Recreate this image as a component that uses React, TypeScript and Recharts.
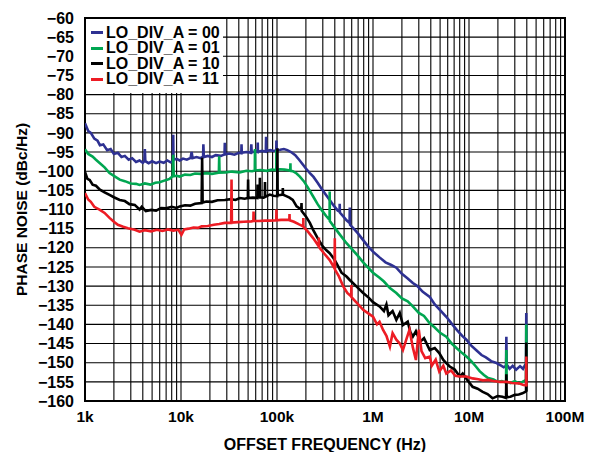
import React from "react";
import { LineChart, Line, XAxis, YAxis, CartesianGrid, Legend, Label, ReferenceArea } from "recharts";

const FONT = "'Liberation Sans', Arial, Helvetica, sans-serif";

// axis ticks
const decadeTicks = [1e3, 1e4, 1e5, 1e6, 1e7, 1e8];
const decadeLabels = ["1k", "10k", "100k", "1M", "10M", "100M"];
const gridSteps = [1, 2, 3, 4, 5, 6, 7, 8, 9];
const yTicks = [-160, -155, -150, -145, -140, -135, -130, -125, -120, -115, -110, -105, -100, -95, -90, -85, -80, -75, -70, -65, -60];

// [offset frequency Hz, phase noise dBc/Hz]
const lo00: [number, number][] = [
  [1000, -87.5], [1080, -89.5], [1150, -90], [1250, -91.5], [1350, -92], [1430, -93.2], [1550, -93], [1700, -94.5],
  [1850, -94.2], [2000, -95.5], [2200, -95.2], [2400, -96.3], [2600, -96], [2850, -97], [3100, -96.6], [3400, -97.6],
  [3700, -97.2], [4000, -97.8], [4150, -97.4], [4200, -94.2], [4250, -97.4], [4600, -97.9], [5000, -97.4], [5500, -97.9],
  [6000, -97.5], [6600, -97.8], [7200, -97.2], [7800, -97.7], [8250, -97.4], [8300, -90.5], [8350, -97], [9000, -96.8],
  [9700, -97.2], [10500, -96.7], [11500, -97], [12600, -96.5], [12900, -95], [13200, -96.6], [14500, -96.3], [16000, -96.6],
  [17000, -96.2], [17100, -93], [17300, -96.3], [19000, -96], [21000, -96.3], [23000, -95.8], [26000, -96], [28400, -95.6],
  [28600, -92.6], [28800, -95.6], [32000, -95.4], [36000, -95.7], [40000, -95.2], [42500, -95.3], [42700, -93], [43000, -95.2],
  [48000, -95], [53500, -95.2], [54000, -93], [54500, -95.1], [59000, -94.8], [62700, -95], [63000, -92.5], [63300, -94.9],
  [70000, -94.7], [76500, -94.9], [77000, -91], [77500, -94.7], [85000, -94.5], [92000, -94.7], [98300, -94.5], [98600, -92],
  [99000, -94.5], [108000, -94.4], [118000, -94.2], [128000, -94.5], [140000, -95], [155000, -95.8], [170000, -97],
  [185000, -98.2], [200000, -99.3], [220000, -100.5], [240000, -101.5], [265000, -103], [290000, -104.5], [320000, -106],
  [354000, -107.5], [390000, -109], [430000, -110.3], [448000, -110.5], [450000, -108.5], [452000, -110.8], [490000, -111.8],
  [530000, -112.8], [570000, -113.5], [573000, -109.5], [577000, -114], [630000, -115], [700000, -116.3], [790000, -118],
  [880000, -119.5], [1000000, -121], [1170000, -122.5], [1350000, -123.8], [1550000, -124.5], [1750000, -125.2],
  [2000000, -126.8], [2300000, -128], [2600000, -129.2], [2900000, -130], [3300000, -131.5], [3900000, -132.8],
  [4400000, -134.8], [5000000, -136.3], [5800000, -138], [6600000, -139.8], [7500000, -141.5], [8500000, -143],
  [9400000, -144], [10500000, -145.5], [12000000, -146.8], [13500000, -148], [15000000, -148.6], [17000000, -149.6],
  [19000000, -150], [21000000, -150.6], [23000000, -151.2], [24300000, -150.8], [24500000, -143.2], [24700000, -150.5],
  [26500000, -151.6], [28500000, -150.8], [31000000, -151.8], [34000000, -150.9], [36500000, -151.6], [38500000, -150.5],
  [39300000, -150.2], [39500000, -137], [39700000, -150],
];

const lo01: [number, number][] = [
  [1000, -94.3], [1080, -95.5], [1200, -96.2], [1300, -97], [1430, -97.9], [1600, -99], [1800, -100.5], [2000, -101.2],
  [2300, -102.2], [2600, -102.6], [3000, -103.2], [3400, -103.3], [3700, -103.6], [4200, -103.2], [4800, -103.5],
  [5400, -103], [6000, -102.9], [6800, -102.4], [7600, -102], [8200, -101.3], [8300, -95.7], [8400, -101.3], [9000, -101.2],
  [9700, -101.4], [11000, -100.9], [12500, -101], [14000, -100.6], [16000, -100.7], [18400, -100.5], [21000, -100.7],
  [24800, -100.4], [25000, -96.1], [25200, -100.4], [29000, -100.3], [34000, -100.1], [41000, -100.3], [48000, -99.9],
  [55000, -100], [58700, -99.8], [59000, -94.2], [59300, -99.8], [67000, -99.7], [78000, -99.9], [88000, -99.6],
  [98300, -99.7], [98600, -94.5], [99000, -99.6], [107000, -99.5], [120000, -99.6], [137500, -99.8], [138000, -97.9],
  [138500, -99.9], [146000, -100], [160000, -100.6], [173000, -101.4], [190000, -102.6], [210000, -104.3], [238000, -106.6],
  [265000, -108.6], [295000, -110.3], [325000, -111.7], [353000, -112.7], [354000, -105.3], [355000, -113], [400000, -114.8],
  [450000, -116.5], [530000, -118.8], [600000, -120.3], [690000, -122], [790000, -123.8], [900000, -125.3], [1000000, -126.5],
  [1170000, -127.8], [1300000, -128.8], [1500000, -130.5], [1750000, -131.8], [2000000, -133.2], [2300000, -134],
  [2600000, -135.3], [3000000, -137], [3400000, -137.8], [3900000, -139.7], [4400000, -140.8], [5000000, -142.2],
  [5800000, -143.2], [6600000, -145], [7500000, -146.3], [8500000, -147.5], [9400000, -148.4], [10500000, -149.5],
  [11800000, -151], [12900000, -152.2], [14300000, -153.2], [15800000, -154], [18000000, -154.4], [20000000, -155],
  [22000000, -154.8], [24300000, -155.2], [24500000, -146.7], [24700000, -155], [27000000, -155.3], [30000000, -154.8],
  [33000000, -155.4], [36000000, -155], [38500000, -154.6], [39300000, -154.5], [39500000, -140], [39700000, -155],
];

const lo10: [number, number][] = [
  [1000, -100.2], [1060, -102], [1120, -102.3], [1200, -103.5], [1300, -103.8], [1430, -104.8], [1600, -105.5],
  [1800, -106.2], [2000, -106.8], [2300, -107.5], [2600, -107.8], [2900, -108.6], [3300, -108.8], [3700, -110],
  [3900, -109.3], [4300, -110.4], [4900, -110.1], [5500, -110.3], [6200, -109.6], [7000, -109.7], [8000, -109.3],
  [9000, -109.6], [9700, -109.2], [11000, -108.9], [12500, -109], [14000, -108.5], [16400, -108.3], [16600, -96.5],
  [16800, -108.2], [18400, -107.9], [21000, -108], [24000, -107.6], [28600, -107.5], [33000, -107.3], [37000, -107.5],
  [41000, -107], [46000, -107.2], [49700, -107], [50000, -102.2], [50300, -107], [56000, -106.9], [62400, -107],
  [62700, -103.5], [63000, -106.9], [66000, -106.8], [66300, -101.7], [66600, -106.8], [72000, -106.9], [74700, -106.7],
  [75000, -102.8], [75300, -106.7], [84000, -106.1], [92000, -106.4], [100500, -106.5], [101000, -94], [101500, -106.3],
  [108000, -106.2], [114500, -106.1], [115000, -104.4], [115500, -106.1], [125000, -106.5], [135000, -106.9],
  [146000, -107.5], [160000, -109.2], [179000, -110], [180000, -108.3], [181000, -110.4], [200000, -111.8],
  [220000, -113.5], [238000, -115.3], [265000, -117.5], [295000, -119.4], [325000, -120.6], [354000, -121.4],
  [390000, -122.8], [416000, -124], [470000, -126.5], [530000, -127.5], [573000, -128.4], [680000, -130.2],
  [790000, -131.8], [900000, -133], [1000000, -134.2], [1170000, -135.3], [1300000, -136.5], [1380000, -134.8],
  [1450000, -137.6], [1600000, -136.5], [1750000, -138.8], [1900000, -137], [2050000, -140.2], [2300000, -139.3],
  [2450000, -142], [2600000, -143.2], [2800000, -141.8], [3100000, -144.5], [3400000, -143.6], [3900000, -146.7],
  [4400000, -146.2], [4900000, -147.5], [5400000, -149.3], [5800000, -150.1], [6300000, -151], [7100000, -151.8],
  [8000000, -153.6], [8600000, -152.8], [9600000, -154.5], [10900000, -156.3], [12300000, -156.8], [13900000, -157.6],
  [15600000, -158.2], [17600000, -159.3], [19800000, -158.7], [22300000, -158.9], [24300000, -159.2], [24500000, -153],
  [24700000, -159], [27000000, -158.9], [30000000, -158.4], [33000000, -158.3], [36000000, -158], [38500000, -157.6],
  [39300000, -157.4], [39500000, -144.7], [39700000, -157.5],
];

const lo11: [number, number][] = [
  [1000, -105.7], [1080, -107.4], [1150, -108], [1250, -109.3], [1430, -110.1], [1600, -110.9], [1800, -112.2],
  [2000, -113.2], [2200, -114], [2500, -114.5], [2800, -114.9], [3300, -115.3], [3700, -115.8], [4200, -115.4],
  [4900, -115.7], [5600, -115.3], [6400, -115.6], [7300, -115.2], [8300, -115.5], [9400, -115.3], [10100, -116.6],
  [10800, -115.2], [12000, -115], [13500, -114.7], [15000, -114.8], [16400, -114.4], [19000, -114.3], [22000, -114],
  [25000, -113.8], [28600, -113.5], [33300, -113.5], [33600, -102.2], [33900, -113.4], [39000, -113.3], [45000, -113.2],
  [54000, -113.1], [56700, -113], [57000, -110.5], [57300, -113], [65000, -113], [75000, -112.9], [84000, -112.9],
  [98300, -112.8], [98600, -110], [99000, -112.8], [110000, -112.7], [122000, -112.7], [134500, -112.7], [135000, -111.2],
  [135500, -112.8], [150000, -113.2], [170000, -113.9], [187500, -114.4], [188000, -112.2], [188500, -114.5],
  [210000, -115.8], [240000, -117.6], [272000, -119.6], [273000, -117.3], [274000, -119.8], [310000, -121.5],
  [354000, -123.2], [398000, -125.4], [400000, -117.5], [402000, -125.7], [440000, -127.4], [490000, -130.1],
  [540000, -131.8], [593000, -132.7], [595000, -129.7], [597000, -132.9], [690000, -134.6], [790000, -136.2],
  [900000, -137.2], [1000000, -138], [1100000, -140], [1170000, -139.3], [1270000, -141.4], [1380000, -143],
  [1500000, -145.8], [1600000, -142.3], [1750000, -144], [1900000, -145], [2050000, -146.7], [2250000, -143.5],
  [2400000, -141.4], [2600000, -146], [2800000, -149.3], [3000000, -141.4], [3200000, -147], [3500000, -148.8],
  [3900000, -148.4], [4100000, -150.8], [4500000, -149.2], [4900000, -152.3], [5400000, -150.8], [5800000, -152.8],
  [6500000, -152], [7200000, -153.4], [8000000, -153.6], [9400000, -153.6], [10900000, -154.1], [12500000, -154.3],
  [14000000, -154.6], [15800000, -154.5], [18000000, -154.8], [21000000, -155], [24500000, -155], [28000000, -155.3],
  [33000000, -155.4], [37000000, -155.8], [39300000, -155.9], [39500000, -148.4], [39700000, -156],
];

const series = [
  { name: "LO_DIV_A = 00", color: "#2E3192", points: lo00 },
  { name: "LO_DIV_A = 01", color: "#00A651", points: lo01 },
  { name: "LO_DIV_A = 10", color: "#000000", points: lo10 },
  { name: "LO_DIV_A = 11", color: "#ED1C24", points: lo11 },
];

const toRows = (pts: [number, number][]) => pts.map(([f, v]) => ({ f, v }));

// vertical grid at 1..9 x each decade
const gridFreqs = decadeTicks.slice(0, -1).flatMap((d) => gridSteps.map((s) => s * d)).concat([1e8]);

const fmtX = (v: number) => {
  const i = decadeTicks.indexOf(v);
  return i >= 0 ? decadeLabels[i] : "";
};
const fmtY = (v: number) => (v < 0 ? `\u2212${-v}` : `${v}`);

const xTickStyle = { fill: "#000", fontSize: 15.5, fontWeight: 700, fontFamily: FONT };
const yTickStyle = { fill: "#000", fontSize: 16, fontWeight: 700, fontFamily: FONT };

const renderLegend = () => (
  <div style={{ background: "#fff", width: 137, height: 74, boxSizing: "border-box", paddingTop: 6, paddingLeft: 5 }}>
    {series.map((s) => (
      <div
        key={s.name}
        style={{
          display: "flex",
          alignItems: "center",
          height: 15.5,
          fontFamily: FONT,
          fontWeight: 700,
          fontSize: 16,
          color: "#000",
          whiteSpace: "nowrap",
        }}
      >
        <span style={{ display: "inline-block", width: 12, height: 3, background: s.color, marginRight: 3 }} />
        {s.name}
      </div>
    ))}
  </div>
);

const YTitle = (props: any) => {
  const vb = props.viewBox;
  const cx = 21;
  const cy = vb.y + vb.height / 2;
  return (
    <text
      x={cx}
      y={cy}
      transform={`rotate(-90, ${cx}, ${cy})`}
      textAnchor="middle"
      dominantBaseline="central"
      fill="#000"
      fontSize={15.5}
      fontWeight={700}
      fontFamily={FONT}
    >
      PHASE NOISE (dBc/Hz)
    </text>
  );
};

export default function App() {
  return (
    <div style={{ position: "absolute", left: 0, top: 0 }}>
      <LineChart width={594} height={452} margin={{ top: 18, right: 29, bottom: 0, left: 0 }}>
        <CartesianGrid stroke="#000" strokeWidth={1.1} />
        <XAxis
          dataKey="f"
          type="number"
          scale="log"
          domain={[1e3, 1e8]}
          allowDataOverflow
          ticks={gridFreqs}
          interval={0}
          tickFormatter={fmtX}
          tick={xTickStyle}
          tickLine={false}
          axisLine={false}
          tickSize={0}
          tickMargin={10}
          height={51}
        >
          <Label
            value="OFFSET FREQUENCY (Hz)"
            position="insideBottom"
            offset={2}
            style={{ fill: "#000", fontSize: 16, fontWeight: 700, fontFamily: FONT }}
          />
        </XAxis>
        <YAxis
          type="number"
          domain={[-160, -60]}
          allowDataOverflow
          ticks={yTicks}
          interval={0}
          tickFormatter={fmtY}
          tick={yTickStyle}
          tickLine={false}
          axisLine={false}
          tickSize={0}
          tickMargin={11}
          width={85}
        >
          <Label content={YTitle} />
        </YAxis>
        <ReferenceArea x1={1e3} x2={1e8} y1={-160} y2={-60} fill="none" stroke="#000" strokeWidth={2} />
        {series.map((s) => (
          <Line
            key={s.name}
            name={s.name}
            data={toRows(s.points)}
            dataKey="v"
            stroke={s.color}
            strokeWidth={2.6}
            dot={false}
            activeDot={false}
            isAnimationActive={false}
          />
        ))}
        <Legend
          layout="vertical"
          align="center"
          verticalAlign="middle"
          content={renderLegend}
          wrapperStyle={{ left: 86, top: 19, width: 137, height: 74 }}
        />
      </LineChart>
    </div>
  );
}
